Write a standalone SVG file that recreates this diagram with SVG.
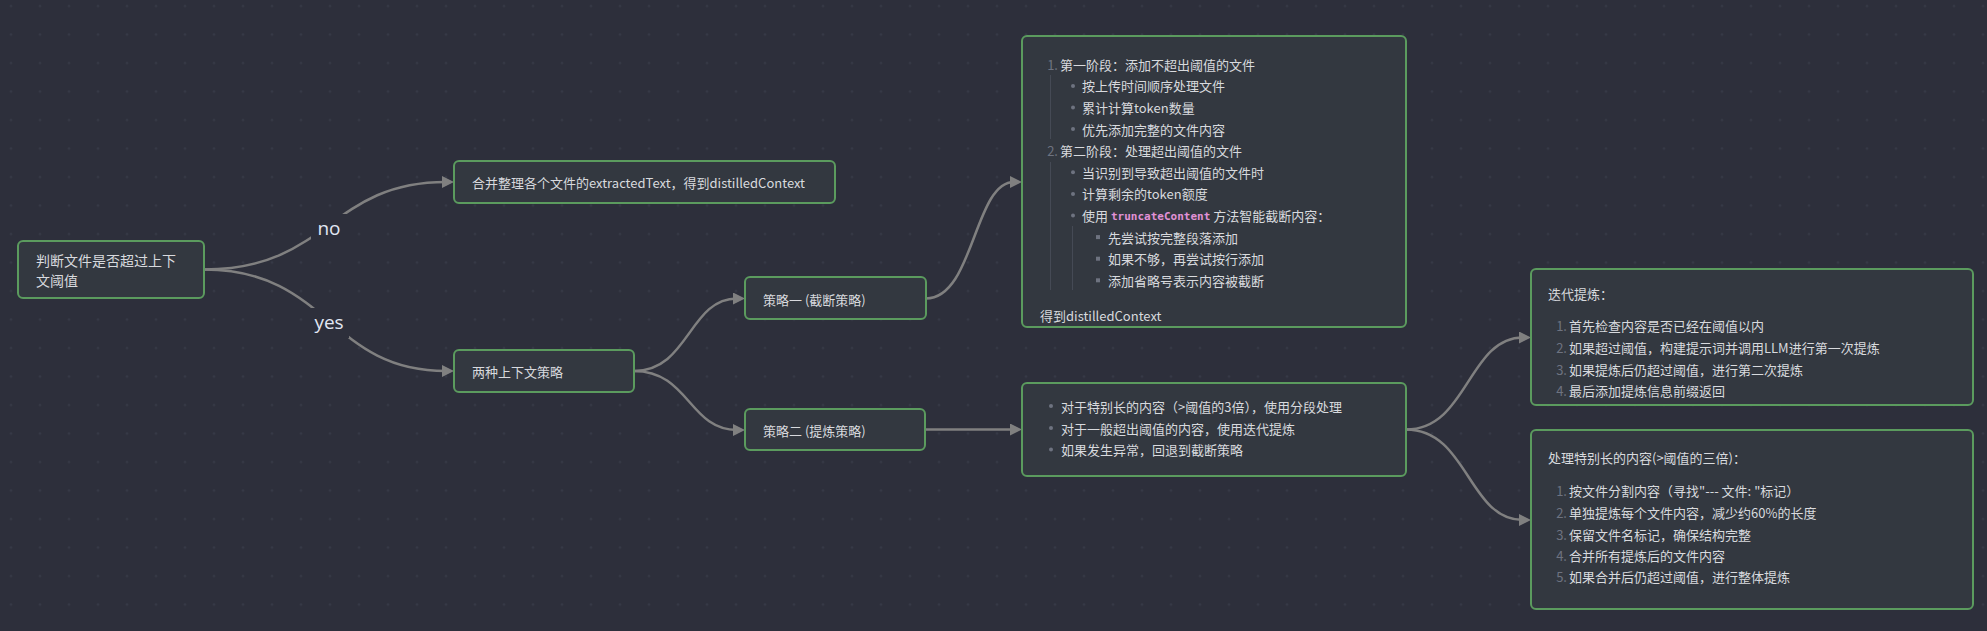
<svg xmlns="http://www.w3.org/2000/svg" width="1987" height="631" viewBox="0 0 1987 631">
<defs>
<pattern id="dots" x="-3" y="-8" width="29" height="28.5" patternUnits="userSpaceOnUse">
<circle cx="14" cy="14" r="1.2" fill="#363946"/>
</pattern>
<marker id="arr" markerUnits="userSpaceOnUse" markerWidth="12" markerHeight="12" refX="4" refY="6" orient="auto">
<path d="M0,0 L12,6 L0,12 z" fill="#808080"/>
</marker>
<style>
.node{fill:#333840;stroke:#5b9b5e;stroke-width:2}
.t{font-family:"Noto Sans CJK SC","Noto Sans",sans-serif;font-size:13px;fill:#d8dade;dominant-baseline:central}
.t14{font-size:14px}
.num{font-family:"Noto Sans CJK SC","Noto Sans",sans-serif;font-size:13px;fill:#6e7380;dominant-baseline:central;text-anchor:end}
.code{font-family:"DejaVu Sans Mono","Liberation Mono",monospace;font-size:11px;font-weight:bold;fill:#e191d6}
.lbl{font-family:"Open Sans","Noto Sans",sans-serif;font-size:19px;fill:#e2e7f3;dominant-baseline:central;text-anchor:middle}
.edge{fill:none;stroke:#808080;stroke-width:2.5}
.guide{stroke:#454a55;stroke-width:1}
.b{fill:#6e7380}
</style>
</defs>
<rect width="1987" height="631" fill="#2d2f3b"/>
<rect width="1987" height="631" fill="url(#dots)"/>

<g id="connectors">
<path class="edge" d="M204,269.5 C329,269.5 329,182 446,182" marker-end="url(#arr)"/>
<path class="edge" d="M204,269.5 C329,269.5 329,371 446,371" marker-end="url(#arr)"/>
<path class="edge" d="M634,371 C689,371 689,298.5 737,298.5" marker-end="url(#arr)"/>
<path class="edge" d="M634,371 C689,371 689,430 737,430" marker-end="url(#arr)"/>
<path class="edge" d="M926,298.5 C974,298.5 974,182 1014,182" marker-end="url(#arr)"/>
<path class="edge" d="M925,429.5 L1014,429.5" marker-end="url(#arr)"/>
<path class="edge" d="M1406,429.5 C1468,429.5 1468,337.5 1523,337.5" marker-end="url(#arr)"/>
<path class="edge" d="M1406,429.5 C1468,429.5 1468,520 1523,520" marker-end="url(#arr)"/>
<g id="label-no">
<rect x="311" y="214" width="36" height="28" fill="#2d2f3b"/>
<text class="lbl" x="329" y="228">no</text>
</g>
<g id="label-yes">
<rect x="309" y="308" width="40" height="30" fill="#2d2f3b"/>
<text class="lbl" x="329" y="322">yes</text>
</g>
</g>

<g id="node-judge">
<rect class="node" x="18" y="241" width="186" height="57" rx="5"/>
<text class="t t14" x="36" y="260">判断文件是否超过上下</text>
<text class="t t14" x="36" y="280">文阈值</text>
</g>

<g id="node-merge">
<rect class="node" x="454" y="161" width="381" height="42" rx="5"/>
<text class="t" x="472" y="182">合并整理各个文件的extractedText，得到distilledContext</text>
</g>

<g id="node-two">
<rect class="node" x="454" y="350" width="180" height="42" rx="5"/>
<text class="t" x="472" y="371.5">两种上下文策略</text>
</g>

<g id="node-s1">
<rect class="node" x="745" y="277" width="181" height="42" rx="5"/>
<text class="t" x="763" y="299.5">策略一 (截断策略)</text>
</g>

<g id="node-s2">
<rect class="node" x="745" y="409" width="180" height="41" rx="5"/>
<text class="t" x="763" y="430">策略二 (提炼策略)</text>
</g>

<g id="node-trunc">
<rect class="node" x="1022" y="36" width="384" height="291" rx="5"/>
<line class="guide" x1="1050.5" y1="75" x2="1050.5" y2="139"/>
<line class="guide" x1="1050.5" y1="162" x2="1050.5" y2="290"/>
<line class="guide" x1="1072.5" y1="226" x2="1072.5" y2="290"/>
<text class="num" x="1058" y="64.3">1.</text>
<text class="t" x="1060" y="64.3">第一阶段：添加不超出阈值的文件</text>
<circle class="b" cx="1073" cy="85.9" r="2"/>
<text class="t" x="1082" y="85.9">按上传时间顺序处理文件</text>
<circle class="b" cx="1073" cy="107.5" r="2"/>
<text class="t" x="1082" y="107.5">累计计算token数量</text>
<circle class="b" cx="1073" cy="129.1" r="2"/>
<text class="t" x="1082" y="129.1">优先添加完整的文件内容</text>
<text class="num" x="1058" y="150.7">2.</text>
<text class="t" x="1060" y="150.7">第二阶段：处理超出阈值的文件</text>
<circle class="b" cx="1073" cy="172.3" r="2"/>
<text class="t" x="1082" y="172.3">当识别到导致超出阈值的文件时</text>
<circle class="b" cx="1073" cy="193.9" r="2"/>
<text class="t" x="1082" y="193.9">计算剩余的token额度</text>
<circle class="b" cx="1073" cy="215.5" r="2"/>
<text class="t" x="1082" y="215.5">使用 <tspan class="code">truncateContent</tspan> 方法智能截断内容：</text>
<rect class="b" x="1096" y="235.1" width="4" height="4"/>
<text class="t" x="1108" y="237.1">先尝试按完整段落添加</text>
<rect class="b" x="1096" y="256.7" width="4" height="4"/>
<text class="t" x="1108" y="258.7">如果不够，再尝试按行添加</text>
<rect class="b" x="1096" y="278.3" width="4" height="4"/>
<text class="t" x="1108" y="280.3">添加省略号表示内容被截断</text>
<text class="t" x="1040" y="315">得到distilledContext</text>
</g>

<g id="node-refine">
<rect class="node" x="1022" y="383" width="384" height="93" rx="5"/>
<circle class="b" cx="1051" cy="406" r="2"/>
<text class="t" x="1061" y="406">对于特别长的内容（&gt;阈值的3倍），使用分段处理</text>
<circle class="b" cx="1051" cy="428" r="2"/>
<text class="t" x="1061" y="428">对于一般超出阈值的内容，使用迭代提炼</text>
<circle class="b" cx="1051" cy="449.5" r="2"/>
<text class="t" x="1061" y="449.5">如果发生异常，回退到截断策略</text>
</g>

<g id="node-iter">
<rect class="node" x="1531" y="269" width="442" height="136" rx="5"/>
<text class="t" x="1548" y="293">迭代提炼：</text>
<text class="num" x="1567" y="325.7">1.</text>
<text class="t" x="1569" y="325.7">首先检查内容是否已经在阈值以内</text>
<text class="num" x="1567" y="347.7">2.</text>
<text class="t" x="1569" y="347.7">如果超过阈值，构建提示词并调用LLM进行第一次提炼</text>
<text class="num" x="1567" y="369.3">3.</text>
<text class="t" x="1569" y="369.3">如果提炼后仍超过阈值，进行第二次提炼</text>
<text class="num" x="1567" y="390.7">4.</text>
<text class="t" x="1569" y="390.7">最后添加提炼信息前缀返回</text>
</g>

<g id="node-long">
<rect class="node" x="1531" y="430" width="442" height="179" rx="5"/>
<text class="t" x="1548" y="457.3">处理特别长的内容(&gt;阈值的三倍)：</text>
<text class="num" x="1567" y="490.7">1.</text>
<text class="t" x="1569" y="490.7">按文件分割内容（寻找"--- 文件: "标记）</text>
<text class="num" x="1567" y="512.7">2.</text>
<text class="t" x="1569" y="512.7">单独提炼每个文件内容，减少约60%的长度</text>
<text class="num" x="1567" y="534">3.</text>
<text class="t" x="1569" y="534">保留文件名标记，确保结构完整</text>
<text class="num" x="1567" y="555">4.</text>
<text class="t" x="1569" y="555">合并所有提炼后的文件内容</text>
<text class="num" x="1567" y="576.7">5.</text>
<text class="t" x="1569" y="576.7">如果合并后仍超过阈值，进行整体提炼</text>
</g>
</svg>
